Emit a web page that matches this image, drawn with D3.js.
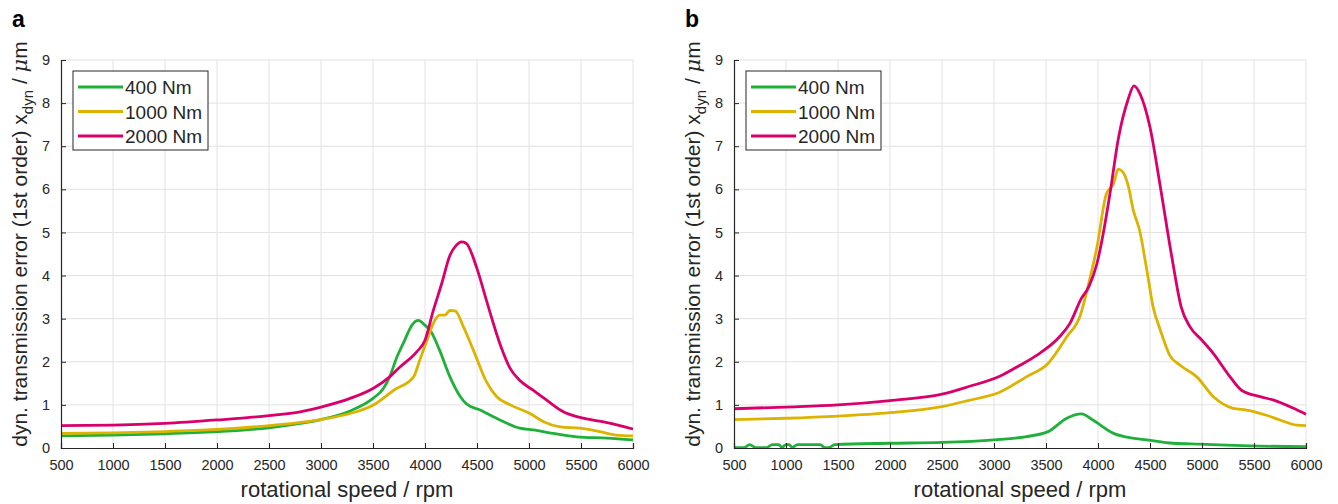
<!DOCTYPE html>
<html>
<head>
<meta charset="utf-8">
<script src="https://cdn.jsdelivr.net/npm/d3@7"></script>
<style>
  body { margin: 0; background: #fff; }
  svg { display: block; font-family: "Liberation Sans", Arial, sans-serif; }
</style>
</head>
<body>
<div id="chart"></div>
<script>
// values: [rpm, x_dyn in um]
var speedTicks = [500, 1000, 1500, 2000, 2500, 3000, 3500, 4000, 4500, 5000, 5500, 6000];
var errTicks = [0, 1, 2, 3, 4, 5, 6, 7, 8, 9];
var loads = ['400 Nm', '1000 Nm', '2000 Nm'];
var colors = ['#1fb03a', '#dcb300', '#d9006b'];

var a400 = [[500,0.28],[1000,0.30],[1500,0.33],[2000,0.38],[2500,0.47],[2800,0.57],[3000,0.66],[3280,0.86],
  [3500,1.15],[3600,1.38],[3660,1.65],[3730,2.11],[3790,2.42],[3880,2.87],[3935,2.96],[4000,2.85],[4060,2.69],
  [4140,2.27],[4240,1.65],[4340,1.19],[4400,1.02],[4530,0.88],[4720,0.65],[4910,0.46],[5040,0.42],[5230,0.34],
  [5460,0.26],[5750,0.23],[6000,0.19]];
var a1000 = [[500,0.34],[1000,0.35],[1500,0.38],[2000,0.43],[2500,0.52],[3000,0.66],[3280,0.80],[3500,0.99],
  [3700,1.34],[3890,1.65],[3950,2.04],[4020,2.50],[4080,2.89],[4140,3.08],[4190,3.08],[4240,3.19],[4290,3.18],
  [4370,2.81],[4465,2.27],[4590,1.54],[4690,1.19],[4820,1.00],[5010,0.80],[5140,0.61],[5300,0.49],[5490,0.46],
  [5680,0.38],[5840,0.30],[6000,0.28]];
var a2000 = [[500,0.52],[1000,0.53],[1500,0.57],[2000,0.65],[2500,0.75],[2800,0.84],[3000,0.95],[3280,1.15],
  [3500,1.38],[3660,1.65],[3760,1.88],[3920,2.23],[4000,2.50],[4080,3.19],[4160,3.81],[4240,4.47],[4300,4.70],
  [4350,4.78],[4395,4.75],[4500,4.16],[4590,3.43],[4720,2.42],[4820,1.84],[4910,1.57],[5040,1.34],[5170,1.11],
  [5330,0.84],[5490,0.71],[5750,0.59],[6000,0.44]];

var b400 = [[500,0.01],[600,0.01],[650,0.08],[710,0.01],[810,0.01],[870,0.08],[930,0.08],[960,0.01],[1000,0.08],
  [1030,0.08],[1060,0.01],[1110,0.08],[1330,0.08],[1370,0.01],[1410,0.01],[1470,0.08],[2000,0.11],[2500,0.13],
  [3000,0.19],[3300,0.26],[3520,0.38],[3700,0.69],[3840,0.79],[3950,0.65],[4150,0.34],[4280,0.25],[4470,0.19],
  [4720,0.11],[4980,0.09],[5460,0.05],[6000,0.03]];
var b1000 = [[500,0.66],[1000,0.69],[1500,0.74],[2000,0.82],[2500,0.96],[2750,1.10],[3060,1.30],[3310,1.65],
  [3520,1.96],[3700,2.58],[3830,3.08],[3910,3.81],[3990,4.66],[4080,5.89],[4150,6.13],[4195,6.47],[4240,6.40],
  [4290,6.09],[4340,5.51],[4400,5.05],[4470,4.12],[4530,3.27],[4600,2.73],[4690,2.15],[4790,1.92],[4950,1.65],
  [5110,1.19],[5300,0.92],[5430,0.88],[5620,0.76],[5750,0.65],[5910,0.53],[6000,0.52]];
var b2000 = [[500,0.91],[1000,0.95],[1500,1.00],[2000,1.10],[2500,1.25],[2750,1.42],[3060,1.67],[3250,1.92],
  [3410,2.15],[3630,2.58],[3730,2.89],[3840,3.47],[3910,3.73],[3990,4.28],[4050,4.97],[4115,5.90],[4195,7.17],
  [4290,8.09],[4345,8.40],[4405,8.21],[4500,7.44],[4600,6.05],[4710,4.43],[4800,3.27],[4885,2.81],[5000,2.50],
  [5110,2.19],[5270,1.65],[5380,1.34],[5560,1.19],[5690,1.11],[5880,0.92],[6000,0.78]];

var W = 1338, H = 504;
var plotTop = 60, plotBottom = 448, plotW = 572;
var ink = '#262626';

var svg = d3.select('#chart').append('svg')
  .attr('width', W)
  .attr('height', H);

function panel(letter, left, series) {
  var x = d3.scaleLinear().domain([500, 6000]).range([left, left + plotW]);
  var y = d3.scaleLinear().domain([0, 9]).range([plotBottom, plotTop]);
  var g = svg.append('g');

  // grid
  g.selectAll('.gx').data(speedTicks.slice(1)).enter().append('line')
    .attr('x1', function(d) { return x(d); }).attr('x2', function(d) { return x(d); })
    .attr('y1', plotTop).attr('y2', plotBottom)
    .style('stroke', '#e2e2e2').style('stroke-width', 1);
  g.selectAll('.gy').data(errTicks.slice(1)).enter().append('line')
    .attr('x1', left).attr('x2', left + plotW)
    .attr('y1', function(d) { return y(d); }).attr('y2', function(d) { return y(d); })
    .style('stroke', '#e2e2e2').style('stroke-width', 1);

  // curves
  var line = d3.line()
    .x(function(d) { return x(d[0]); })
    .y(function(d) { return y(d[1]); })
    .curve(d3.curveMonotoneX);
  for(var i = 0; i < series.length; i++) {
    g.append('path')
      .attr('d', line(series[i]))
      .style('fill', 'none')
      .style('stroke', colors[i])
      .style('stroke-width', 2.8)
      .style('stroke-linejoin', 'round');
  }

  // axes, ticks inside like matlab
  var xAxis = g.append('g').attr('transform', 'translate(0,' + plotBottom + ')')
    .call(d3.axisBottom(x).tickValues(speedTicks).tickSize(-5).tickPadding(12).tickFormat(d3.format('d')));
  var yAxis = g.append('g').attr('transform', 'translate(' + left + ',0)')
    .call(d3.axisLeft(y).tickValues(errTicks).tickSize(-5).tickPadding(11).tickFormat(d3.format('d')));
  [xAxis, yAxis].forEach(function(ax) {
    ax.select('.domain').attr('stroke', ink).attr('stroke-width', 1.2);
    ax.selectAll('.tick line').attr('stroke', ink);
    ax.selectAll('.tick text').attr('fill', ink).style('font-size', '14.5px')
      .style('font-family', '"Liberation Sans", Arial, sans-serif');
  });

  // axis labels
  g.append('text')
    .attr('x', left + plotW / 2).attr('y', 497)
    .attr('text-anchor', 'middle')
    .style('font-size', '22px').style('fill', ink)
    .text('rotational speed / rpm');

  var yl = g.append('text')
    .attr('transform', 'translate(' + (left - 34) + ',' + 244 + ') rotate(-90)')
    .attr('text-anchor', 'middle')
    .style('font-size', '21px').style('fill', ink);
  yl.append('tspan').text('dyn. transmission error (1st order) x');
  yl.append('tspan').attr('dy', 6).style('font-size', '15px').text('dyn');
  yl.append('tspan').attr('dy', -6).text(' / ');
  yl.append('tspan').style('font-style', 'italic').style('font-family', '"DejaVu Serif", serif').text('\u03bc');
  yl.append('tspan').text('m');

  // panel letter
  g.append('text')
    .attr('x', left - 49).attr('y', 27)
    .style('font-size', '23px').style('font-weight', 'bold').style('fill', '#000')
    .text(letter);

  // legend
  var lx = left + 12, ly = 71;
  g.append('rect')
    .attr('x', lx).attr('y', ly).attr('width', 135).attr('height', 79)
    .style('fill', '#fff').style('stroke', ink).style('stroke-width', 1);
  for(var k = 0; k < loads.length; k++) {
    var ry = ly + 16 + k * 24.5;
    g.append('line')
      .attr('x1', lx + 5).attr('x2', lx + 50).attr('y1', ry).attr('y2', ry)
      .style('stroke', colors[k]).style('stroke-width', 2.8);
    g.append('text')
      .attr('x', lx + 52).attr('y', ry + 7)
      .style('font-size', '19px').style('fill', ink)
      .text(loads[k]);
  }
}

panel('a', 61, [a400, a1000, a2000]);
panel('b', 734, [b400, b1000, b2000]);
</script>
</body>
</html>
